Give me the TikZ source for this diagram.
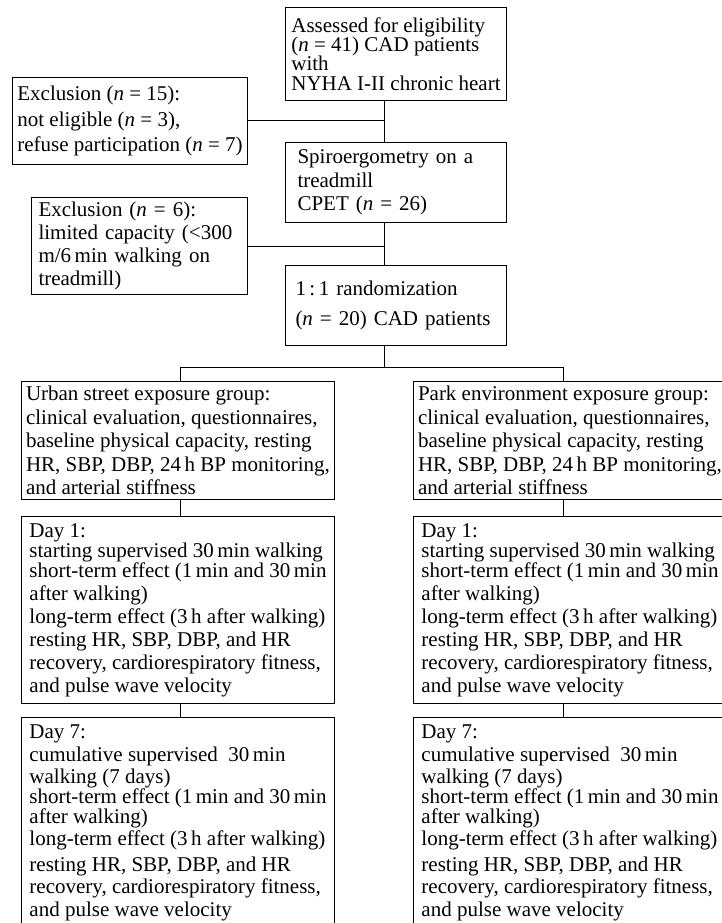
\documentclass[tikz,border=0pt]{standalone}
\usepackage{fontspec}
\setmainfont{Liberation Serif}
\tikzset{
  flowbox/.style={draw, line width=1pt, anchor=north west, align=left, inner xsep=4pt, inner ysep=0pt, font=\fontsize{21}{23.5}\selectfont},
}
\begin{document}
\begin{tikzpicture}[x=1pt, y=-1pt, line width=1pt]
\clip (0,0) rectangle (722,923);
\fill[white] (0,0) rectangle (722,923);
\node[flowbox, minimum width=221pt, minimum height=93pt, font=\fontsize{21}{19.3}\selectfont] (assess) at (285,7) {Assessed for eligibility\\ (\textit{n} = 41) CAD patients\\ with\\ NYHA I-II chronic heart};
\node[flowbox, minimum width=235pt, minimum height=87pt, font=\fontsize{21}{25.5}\selectfont] (excl15) at (12,77) {Exclusion (\textit{n} = 15):\\ not eligible (\textit{n} = 3),\\ refuse participation (\textit{n} = 7)};
\node[flowbox, minimum width=221pt, minimum height=80pt, inner xsep=12pt, text width=197pt] (spiro) at (285,142) {Spiroergometry on a\\ treadmill\\ CPET (\textit{n} = 26)};
\node[flowbox, minimum width=216pt, minimum height=97pt, inner xsep=7pt, text width=202pt, font=\fontsize{21}{23}\selectfont] (excl6) at (31,197) {Exclusion (\textit{n} = 6):\\ limited capacity (<300\\ m/6\,min walking on\\ treadmill)};
\node[flowbox, minimum width=221pt, minimum height=80pt, inner xsep=10pt, text width=201pt] (rand) at (285,265) {1\,:\,1 randomization\\[6.5pt] (\textit{n} = 20) CAD patients};
% two exposure groups
\node[flowbox, minimum width=313pt, minimum height=118pt] (urban) at (21,381) {Urban street exposure group:\\ clinical evaluation, questionnaires,\\ baseline physical capacity, resting\\ HR, SBP, DBP, 24\,h BP monitoring,\\ and arterial stiffness};
\node[flowbox, minimum width=313pt, minimum height=118pt] (park) at (413,381) {Park environment exposure group:\\ clinical evaluation, questionnaires,\\ baseline physical capacity, resting\\ HR, SBP, DBP, 24\,h BP monitoring,\\ and arterial stiffness};
\node[flowbox, minimum width=313pt, minimum height=187pt, font=\fontsize{21}{23}\selectfont] (day1l) at (21,516) {Day 1:\\[-3pt] starting supervised 30\,min walking\\[-3pt] short-term effect (1\,min and 30\,min\\ after walking)\\ long-term effect (3\,h after walking)\\ resting HR, SBP, DBP, and HR\\ recovery, cardiorespiratory fitness,\\ and pulse wave velocity};
\node[flowbox, minimum width=313pt, minimum height=187pt, font=\fontsize{21}{23}\selectfont] (day1r) at (413,516) {Day 1:\\[-3pt] starting supervised 30\,min walking\\[-3pt] short-term effect (1\,min and 30\,min\\ after walking)\\ long-term effect (3\,h after walking)\\ resting HR, SBP, DBP, and HR\\ recovery, cardiorespiratory fitness,\\ and pulse wave velocity};
\node[flowbox, minimum width=313pt, minimum height=210pt, font=\fontsize{21}{22}\selectfont] (day7l) at (21,717) {Day 7:\\[1pt] cumulative supervised \ 30\,min\\ walking (7 days)\\[-2pt] short-term effect (1\,min and 30\,min\\[-2pt] after walking)\\ long-term effect (3\,h after walking)\\[4pt] resting HR, SBP, DBP, and HR\\ recovery, cardiorespiratory fitness,\\[1pt] and pulse wave velocity};
\node[flowbox, minimum width=313pt, minimum height=210pt, font=\fontsize{21}{22}\selectfont] (day7r) at (413,717) {Day 7:\\[1pt] cumulative supervised \ 30\,min\\ walking (7 days)\\[-2pt] short-term effect (1\,min and 30\,min\\[-2pt] after walking)\\ long-term effect (3\,h after walking)\\[4pt] resting HR, SBP, DBP, and HR\\ recovery, cardiorespiratory fitness,\\[1pt] and pulse wave velocity};
% connectors
\coordinate (trunk) at (384,0);
\coordinate (lb) at (180,367);
\coordinate (rb) at (563,367);
\draw (assess.south -| trunk) -- (spiro.north -| trunk);
\draw (excl15.east) -- (excl15.east -| trunk);
\draw (spiro.south -| trunk) -- (rand.north -| trunk);
\draw (excl6.east) -- (excl6.east -| trunk);
\draw (rand.south -| trunk) -- (lb -| trunk);
\draw (lb) -- (rb);
\draw (lb) -- (lb |- urban.north);
\draw (rb) -- (rb |- park.north);
\draw (urban.south -| lb) -- (day1l.north -| lb);
\draw (park.south -| rb) -- (day1r.north -| rb);
\draw (day1l.south -| lb) -- (day7l.north -| lb);
\draw (day1r.south -| rb) -- (day7r.north -| rb);
\end{tikzpicture}
\end{document}
